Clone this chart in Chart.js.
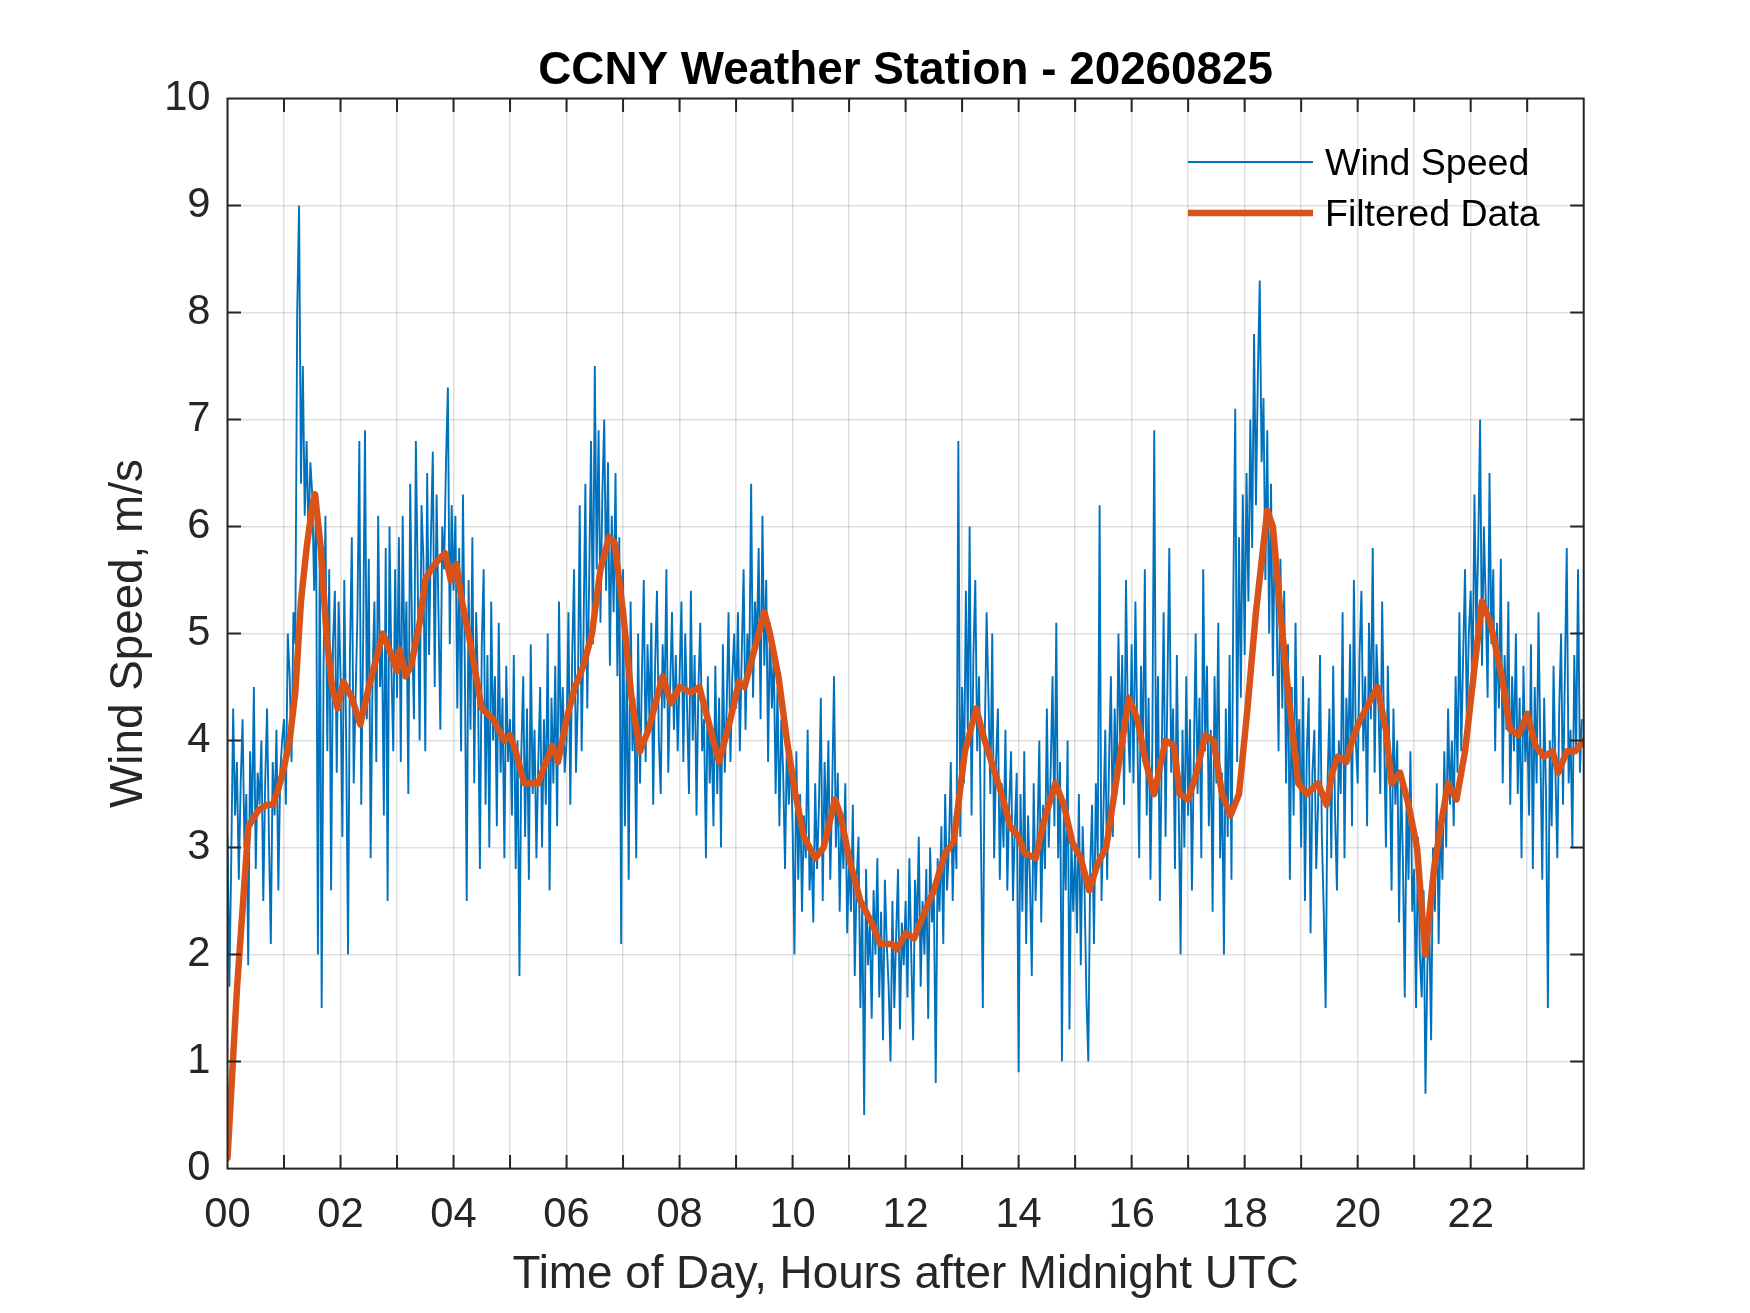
<!DOCTYPE html>
<html>
<head>
<meta charset="utf-8">
<title>CCNY Weather Station - 20260825</title>
<script src="https://cdn.jsdelivr.net/npm/chart.js@4.4.1/dist/chart.umd.min.js"></script>
<style>
  html, body { margin: 0; padding: 0; background: #fff; }
  #myChart { display: block; }
</style>
</head>
<body>
<canvas id="myChart" width="1750" height="1313"></canvas>
<script>
// ---- data ----
const chartTitle = 'CCNY Weather Station - 20260825';
const seriesLabels = ['Wind Speed', 'Filtered Data'];
const xTickLabels = ['00', '02', '04', '06', '08', '10', '12', '14', '16', '18', '20', '22'];
const yTickLabels = ['0', '1', '2', '3', '4', '5', '6', '7', '8', '9', '10'];
const sampleMinutes = 2;

// wind speed, m/s, one row per hour (2 minute samples)
const windSpeed = [
  3.1, 1.7, 2.9, 4.3, 3.3, 3.8, 2.7, 3.6, 4.2, 3.0, 3.5, 1.9, 3.9, 3.2, 4.5, 2.8, 3.7, 3.4, 4.0, 2.5, 3.6, 4.3, 3.1, 2.1, 3.8, 3.3, 4.1, 2.6, 3.7, 4.0,
  4.2, 3.4, 5.0, 4.6, 3.8, 5.2, 4.9, 8.0, 9.0, 6.4, 7.5, 6.1, 6.8, 5.9, 6.6, 6.3, 5.4, 6.2, 2.0, 5.8, 1.5, 4.7, 6.1, 3.9, 5.6, 2.6, 4.9, 5.4, 3.7, 5.3,
  4.6, 3.1, 5.5, 4.0, 2.0, 4.8, 5.9, 3.6, 4.4, 5.2, 6.8, 3.4, 4.9, 6.9, 4.2, 5.7, 2.9, 4.6, 5.3, 3.8, 6.1, 4.5, 5.0, 3.3, 5.8, 2.5, 6.0, 4.7, 3.9, 5.6,
  4.4, 5.9, 3.8, 6.1, 4.6, 5.3, 3.5, 6.4, 5.0, 4.2, 6.8, 5.5, 4.0, 6.2, 5.7, 3.9, 6.5, 4.8, 5.9, 6.7, 4.5, 6.3, 5.2, 4.1, 6.0, 5.6, 6.6, 7.3, 4.9, 6.2,
  5.4, 6.1, 4.3, 5.8, 3.9, 6.3, 4.7, 2.5, 5.5, 4.1, 5.9, 3.6, 5.2, 4.5, 2.8, 4.9, 5.6, 3.4, 4.8, 3.0, 5.3, 4.0, 4.6, 3.2, 5.1, 3.7, 4.4, 2.9, 4.7, 3.8,
  4.2, 3.3, 4.8, 2.8, 4.0, 1.8, 3.9, 4.6, 3.1, 4.3, 2.7, 4.9, 3.5, 4.1, 2.9, 3.8, 4.5, 3.0, 4.2, 3.4, 5.0, 2.6, 4.4, 3.6, 4.7, 3.2, 5.3, 3.9, 4.5, 3.7,
  4.0, 5.2, 3.4, 4.8, 5.6, 3.7, 4.4, 6.2, 3.9, 5.0, 6.4, 4.3, 5.5, 6.8, 4.9, 7.5, 5.6, 6.9, 5.1, 6.3, 7.0, 5.4, 6.6, 4.7, 6.1, 5.2, 6.5, 4.6, 5.9, 2.1,
  5.6, 3.2, 4.8, 2.7, 5.3, 3.9, 4.4, 2.9, 5.0, 3.6, 4.6, 5.5, 3.8, 4.9, 4.2, 5.1, 3.4, 4.7, 5.4, 4.0, 3.5, 4.9, 4.3, 5.6, 3.7, 4.5, 5.2, 4.1, 4.8, 3.9,
  4.6, 5.3, 3.8, 5.0, 4.3, 3.5, 5.4, 4.0, 4.8, 3.3, 4.5, 5.1, 3.9, 4.2, 2.9, 4.6, 3.6, 4.1, 3.2, 4.7, 3.5, 4.4, 3.0, 4.9, 3.7, 4.3, 5.2, 3.8, 4.6, 5.0,
  4.3, 5.2, 3.9, 4.8, 5.6, 4.1, 5.0, 4.6, 6.4, 4.4, 5.3, 4.9, 5.8, 4.2, 6.1, 4.7, 5.5, 3.8, 5.1, 4.3, 4.8, 3.5, 4.5, 3.2, 4.2, 3.7, 2.8, 4.0, 3.4, 3.9,
  3.2, 2.0, 3.9, 2.7, 3.5, 2.4, 3.3, 2.9, 4.1, 2.6, 3.0, 2.3, 3.6, 2.8, 3.4, 4.4, 2.5, 3.8, 3.1, 4.0, 2.7, 3.5, 4.6, 3.0, 3.7, 2.4, 3.3, 2.8, 3.6, 2.2,
  2.9, 2.4, 3.4, 1.8, 2.7, 3.1, 1.5, 2.5, 0.5, 2.8, 1.9, 2.3, 1.4, 2.6, 2.0, 2.9, 1.6, 2.4, 1.2, 2.7, 2.1, 1.7, 1.0, 2.5, 1.5, 2.2, 2.8, 1.3, 2.3, 1.9,
  2.5, 1.6, 2.9, 2.0, 1.2, 2.7, 2.2, 3.1, 1.7, 2.5, 2.0, 2.8, 1.4, 3.0, 2.3, 2.6, 0.8, 2.9, 2.4, 3.2, 2.1, 3.5, 2.6, 3.0, 3.8, 2.5, 3.3, 2.8, 6.8, 3.1,
  4.5, 3.6, 5.4, 4.1, 6.0, 3.3, 4.8, 5.5, 3.9, 4.6, 3.1, 1.5, 4.0, 5.2, 4.4, 3.5, 5.0, 2.9, 3.8, 4.3, 2.7, 3.6, 3.0, 4.1, 2.6, 3.4, 3.9, 2.5, 3.2, 3.7,
  0.9, 3.5, 2.4, 3.9, 2.1, 3.3, 2.7, 1.8, 3.6, 2.5, 3.1, 4.0, 2.3, 3.4, 2.8, 4.3, 3.0, 3.7, 4.6, 3.2, 5.1, 2.9, 3.8, 1.0, 3.3, 2.6, 4.0, 1.3, 3.1, 2.4,
  3.0, 2.2, 3.5, 1.9, 3.2, 2.6, 1.6, 1.0, 2.8, 3.4, 2.1, 3.6, 2.9, 6.2, 2.5, 3.3, 4.1, 2.7, 3.8, 4.6, 3.1, 4.3, 3.5, 5.0, 3.9, 4.8, 3.4, 5.5, 4.2, 3.7,
  4.9, 3.6, 5.3, 4.1, 2.9, 4.7, 3.8, 5.6, 3.3, 4.4, 2.7, 4.0, 6.9, 3.5, 4.6, 2.5, 3.9, 5.2, 3.1, 4.5, 5.8, 3.7, 4.3, 2.8, 4.8, 3.4, 2.0, 4.1, 3.0, 4.6,
  3.3, 4.2, 2.6, 3.8, 5.0, 3.5, 4.4, 2.9, 5.6, 3.9, 4.7, 3.2, 4.1, 2.4, 4.6, 3.6, 5.1, 2.9, 3.7, 2.0, 4.3, 3.1, 4.8, 2.7, 5.4, 7.1, 3.8, 5.9, 4.4, 6.3,
  4.8, 6.5, 5.3, 7.0, 5.8, 7.8, 6.2, 7.4, 8.3, 6.6, 7.2, 5.5, 6.9, 5.0, 6.4, 4.6, 6.0, 5.2, 3.9, 5.7, 4.3, 5.4, 3.6, 4.9, 2.7, 4.5, 3.3, 5.1, 3.8, 4.2,
  3.0, 4.6, 2.5, 3.9, 4.4, 2.2, 3.7, 4.1, 2.8, 3.4, 4.8, 3.1, 2.4, 1.5, 3.6, 4.3, 2.9, 4.7, 3.3, 2.6, 4.0, 3.5, 5.2, 2.9, 4.4, 3.8, 4.9, 3.2, 5.5, 4.0,
  3.6, 4.8, 5.4, 3.9, 4.6, 3.2, 5.1, 4.2, 5.8, 3.7, 4.9, 4.4, 3.5, 5.3, 4.1, 3.0, 4.7, 3.8, 2.6, 4.3, 3.4, 4.0, 2.3, 3.7, 2.9, 1.6, 3.5, 2.7, 3.9, 2.4,
  2.8, 1.5, 3.1, 2.0, 1.6, 2.6, 0.7, 1.9, 2.3, 1.2, 3.0, 2.4, 3.6, 2.1, 3.3, 2.7, 3.9, 3.0, 4.3, 3.4, 4.0, 3.2, 4.6, 3.7, 5.2, 3.9, 4.8, 5.6, 4.1, 5.0,
  5.4, 4.5, 6.3, 5.0, 5.8, 7.0, 4.7, 6.0, 5.3, 4.4, 6.5, 4.9, 5.6, 3.9, 5.1, 4.3, 5.7, 3.6, 4.8, 4.1, 5.3, 3.4, 4.6, 3.9, 5.0, 3.5, 4.4, 2.9, 4.7, 3.8,
  4.2, 3.3, 4.9, 2.8, 4.5, 3.6, 5.2, 3.9, 2.7, 4.4, 3.5, 1.5, 4.0, 3.2, 4.7, 3.7, 2.9, 4.3, 5.0, 3.4, 4.6, 5.8, 3.6, 4.1, 3.0, 4.8, 3.9, 5.6, 3.7, 4.2,
];

// filtered data, hours after midnight / m/s
const filterHours = [
  0, 0.17, 0.37, 0.55, 0.7, 0.8, 0.9, 1.0, 1.1, 1.2,
  1.3, 1.4, 1.5, 1.55, 1.65, 1.75, 1.85, 1.95, 2.05, 2.2,
  2.35, 2.5, 2.65, 2.75, 2.9, 3.0, 3.05, 3.15, 3.25, 3.4,
  3.5, 3.6, 3.75, 3.85, 3.95, 4.05, 4.15, 4.3, 4.5, 4.7,
  4.9, 5.0, 5.1, 5.25, 5.5, 5.6, 5.75, 5.85, 6.0, 6.15,
  6.3, 6.45, 6.6, 6.75, 6.85, 7.0, 7.15, 7.3, 7.45, 7.6,
  7.7, 7.85, 8.0, 8.2, 8.35, 8.5, 8.7, 8.9, 9.05, 9.15,
  9.3, 9.5, 9.6, 9.75, 9.9, 10.05, 10.2, 10.4, 10.55, 10.75,
  10.85, 11.0, 11.2, 11.4, 11.55, 11.75, 11.85, 12.0, 12.15, 12.3,
  12.5, 12.7, 12.85, 13.05, 13.25, 13.4, 13.55, 13.7, 13.85, 14.0,
  14.1, 14.3, 14.45, 14.65, 14.8, 14.95, 15.1, 15.25, 15.4, 15.55,
  15.75, 15.95, 16.1, 16.25, 16.4, 16.6, 16.75, 16.85, 17.0, 17.15,
  17.3, 17.45, 17.6, 17.75, 17.9, 18.05, 18.2, 18.4, 18.5, 18.65,
  18.8, 18.95, 19.1, 19.3, 19.45, 19.55, 19.65, 19.8, 19.9, 20.05,
  20.25, 20.35, 20.5, 20.6, 20.75, 20.9, 21.05, 21.2, 21.35, 21.5,
  21.6, 21.75, 21.9, 22.05, 22.2, 22.35, 22.55, 22.7, 22.85, 23.0,
  23.15, 23.3, 23.45, 23.55, 23.7, 23.85, 24.0,
];
const filterValues = [
  0.1, 1.7, 3.2, 3.35, 3.4, 3.4, 3.55, 3.75, 4.0, 4.45,
  5.3, 5.8, 6.2, 6.3, 5.8, 5.0, 4.5, 4.3, 4.55, 4.4,
  4.15, 4.5, 4.8, 5.0, 4.8, 4.65, 4.85, 4.6, 4.7, 5.1,
  5.5, 5.6, 5.7, 5.75, 5.5, 5.65, 5.3, 4.9, 4.3, 4.2,
  4.0, 4.05, 3.9, 3.6, 3.6, 3.75, 3.95, 3.8, 4.2, 4.5,
  4.7, 5.0, 5.6, 5.9, 5.85, 5.2, 4.4, 3.9, 4.1, 4.4,
  4.6, 4.35, 4.5, 4.45, 4.5, 4.2, 3.8, 4.2, 4.55, 4.5,
  4.8, 5.2, 5.0, 4.6, 4.0, 3.5, 3.1, 2.9, 3.0, 3.45,
  3.3, 2.9, 2.5, 2.3, 2.1, 2.1, 2.05, 2.2, 2.15, 2.35,
  2.6, 2.95, 3.05, 3.9, 4.3, 4.0, 3.75, 3.5, 3.2, 3.1,
  2.95, 2.9, 3.25, 3.6, 3.4, 3.05, 2.9, 2.6, 2.85, 3.0,
  3.7, 4.4, 4.2, 3.8, 3.5, 4.0, 3.95, 3.5, 3.45, 3.7,
  4.05, 4.0, 3.5, 3.3, 3.5, 4.3, 5.2, 6.15, 6.0, 5.1,
  4.3, 3.6, 3.5, 3.6, 3.4, 3.7, 3.85, 3.8, 4.0, 4.2,
  4.4, 4.5, 4.1, 3.6, 3.7, 3.4, 3.0, 2.0, 2.8, 3.3,
  3.6, 3.45, 3.9, 4.6, 5.3, 5.1, 4.6, 4.1, 4.05, 4.25,
  3.95, 3.85, 3.9, 3.7, 3.9, 3.9, 4.0,
];

// ---- look ----
const FONT = '"Liberation Sans", Arial, Helvetica, sans-serif';
const AXIS_COLOR = '#262626';
const BLUE = '#0072BD';
const ORANGE = '#D95319';
const AREA = { left: 227.5, top: 98.5, right: 1583.7, bottom: 1168.6 };

const windPoints = windSpeed.map((v, i) => ({ x: (i * sampleMinutes) / 60, y: v }));
const filterPoints = filterHours.map((h, i) => ({ x: h, y: filterValues[i] }));

// box, inward tick marks, title and legend in MATLAB style
const matlabAxes = {
  id: 'matlabAxes',
  afterDatasetsDraw(chart) {
    const { ctx, chartArea: a, scales: { x, y } } = chart;
    const tick = 13.5;
    ctx.save();
    ctx.strokeStyle = AXIS_COLOR;
    ctx.lineWidth = 2;
    ctx.beginPath();
    for (let h = 1; h < 24; h += 1) {
      const px = x.getPixelForValue(h);
      ctx.moveTo(px, a.bottom); ctx.lineTo(px, a.bottom - tick);
      ctx.moveTo(px, a.top); ctx.lineTo(px, a.top + tick);
    }
    for (let v = 1; v < 10; v += 1) {
      const py = y.getPixelForValue(v);
      ctx.moveTo(a.left, py); ctx.lineTo(a.left + tick, py);
      ctx.moveTo(a.right, py); ctx.lineTo(a.right - tick, py);
    }
    ctx.stroke();
    ctx.strokeRect(a.left, a.top, a.right - a.left, a.bottom - a.top);

    // title
    ctx.fillStyle = '#000';
    ctx.font = `bold 45.8px ${FONT}`;
    ctx.textAlign = 'center';
    ctx.textBaseline = 'middle';
    ctx.fillText(chartTitle, (a.left + a.right) / 2, 71.5);

    // legend
    const rows = [
      { y: 162, color: BLUE, width: 2 },
      { y: 213, color: ORANGE, width: 6.5 },
    ];
    ctx.font = `37.5px ${FONT}`;
    ctx.textAlign = 'left';
    rows.forEach((r, i) => {
      ctx.strokeStyle = r.color;
      ctx.lineWidth = r.width;
      ctx.beginPath();
      ctx.moveTo(1188, r.y);
      ctx.lineTo(1313, r.y);
      ctx.stroke();
      ctx.fillStyle = '#000';
      ctx.fillText(seriesLabels[i], 1325, r.y + 3);
    });
    ctx.restore();
  },
};

const $chart = document.querySelector('#myChart');

const config = {
  type: 'line',
  data: {
    datasets: [
      {
        label: seriesLabels[0],
        data: windPoints,
        borderColor: BLUE,
        borderWidth: 1.9,
        pointRadius: 0,
        tension: 0,
        order: 2,
      },
      {
        label: seriesLabels[1],
        data: filterPoints,
        borderColor: ORANGE,
        borderWidth: 6.5,
        borderJoinStyle: 'round',
        borderCapStyle: 'round',
        pointRadius: 0,
        tension: 0,
        order: 1,
      },
    ],
  },
  options: {
    responsive: false,
    animation: false,
    devicePixelRatio: 1,
    layout: {
      padding: { left: 0, top: AREA.top, right: 1750 - AREA.right, bottom: 0 },
    },
    plugins: {
      legend: { display: false },
      title: { display: false },
      tooltip: { enabled: false },
    },
    scales: {
      x: {
        type: 'linear',
        min: 0,
        max: 24,
        afterFit: (scale) => { scale.height = 1313 - AREA.bottom; },
        ticks: {
          stepSize: 1,
          autoSkip: false,
          maxRotation: 0,
          padding: 22,
          color: AXIS_COLOR,
          font: { family: FONT, size: 41.7 },
          callback: (v) => (v % 2 === 0 && v < 24 ? xTickLabels[v / 2] : ''),
        },
        grid: { color: 'rgba(38,38,38,0.15)', lineWidth: 1.5, drawTicks: false },
        border: { display: false },
        title: {
          display: true,
          text: 'Time of Day, Hours after Midnight UTC',
          color: AXIS_COLOR,
          font: { family: FONT, size: 45.8 },
          padding: { top: 0, bottom: 10.5 },
        },
      },
      y: {
        min: 0,
        max: 10,
        afterFit: (scale) => { scale.width = AREA.left; },
        ticks: {
          stepSize: 1,
          padding: 17,
          color: AXIS_COLOR,
          font: { family: FONT, size: 41.7 },
          callback: (v) => yTickLabels[v],
        },
        grid: { color: 'rgba(38,38,38,0.15)', lineWidth: 1.5, drawTicks: false },
        border: { display: false },
        title: {
          display: true,
          text: 'Wind Speed, m/s',
          color: AXIS_COLOR,
          font: { family: FONT, size: 45.8 },
          padding: { top: 101.5, bottom: 0 },
        },
      },
    },
  },
  plugins: [matlabAxes],
};

const myChart = new Chart($chart, config);
</script>
</body>
</html>
